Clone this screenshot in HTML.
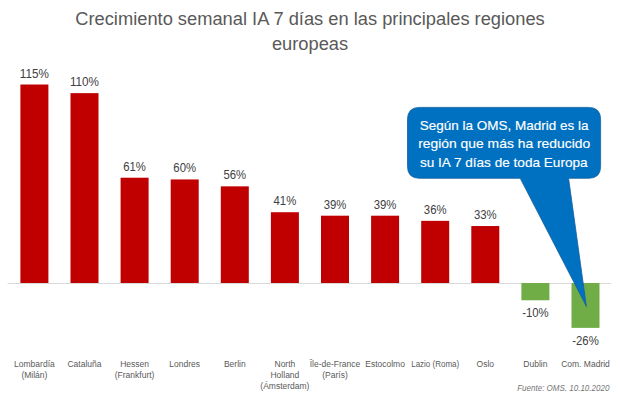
<!DOCTYPE html>
<html><head><meta charset="utf-8"><style>
html,body{margin:0;padding:0;background:#fff;}
body{width:620px;height:404px;overflow:hidden;}
svg{display:block;}
text{font-family:"Liberation Sans",sans-serif;}
.val{font-size:12.4px;fill:#404040;text-anchor:middle;}
.cat{font-size:8.5px;fill:#595959;text-anchor:middle;}
.co{font-size:12.8px;fill:#fff;stroke:#fff;stroke-width:0.15px;text-anchor:middle;}
.title{font-size:18.3px;fill:#595959;text-anchor:middle;}
.src{font-size:8.6px;fill:#767676;text-anchor:end;font-style:italic;}
</style></head><body>
<svg width="620" height="404" viewBox="0 0 620 404">
<rect width="620" height="404" fill="#fff"/>
<line x1="7.7" y1="283.5" x2="611" y2="283.5" stroke="#D9D9D9" stroke-width="1"/>
<rect x="20.40" y="84.51" width="28.0" height="198.49" fill="#C00000"/>
<text x="34.40" y="77.51" class="val" textLength="29.11" lengthAdjust="spacingAndGlyphs">115%</text>
<text x="34.40" y="366.80" class="cat">Lombardía</text>
<text x="34.40" y="377.85" class="cat">(Milán)</text>
<rect x="70.50" y="93.14" width="28.0" height="189.86" fill="#C00000"/>
<text x="84.50" y="86.14" class="val" textLength="29.11" lengthAdjust="spacingAndGlyphs">110%</text>
<text x="84.50" y="366.80" class="cat">Cataluña</text>
<rect x="120.60" y="177.71" width="28.0" height="105.29" fill="#C00000"/>
<text x="134.60" y="170.71" class="val" textLength="22.71" lengthAdjust="spacingAndGlyphs">61%</text>
<text x="134.60" y="366.80" class="cat">Hessen</text>
<text x="134.60" y="377.85" class="cat">(Frankfurt)</text>
<rect x="170.70" y="179.44" width="28.0" height="103.56" fill="#C00000"/>
<text x="184.70" y="172.44" class="val" textLength="22.71" lengthAdjust="spacingAndGlyphs">60%</text>
<text x="184.70" y="366.80" class="cat">Londres</text>
<rect x="220.80" y="186.34" width="28.0" height="96.66" fill="#C00000"/>
<text x="234.80" y="179.34" class="val" textLength="22.71" lengthAdjust="spacingAndGlyphs">56%</text>
<text x="234.80" y="366.80" class="cat">Berlin</text>
<rect x="270.90" y="212.23" width="28.0" height="70.77" fill="#C00000"/>
<text x="284.90" y="205.23" class="val" textLength="22.71" lengthAdjust="spacingAndGlyphs">41%</text>
<text x="284.90" y="366.80" class="cat">North</text>
<text x="284.90" y="377.85" class="cat">Holland</text>
<text x="284.90" y="388.90" class="cat">(Ámsterdam)</text>
<rect x="321.00" y="215.69" width="28.0" height="67.31" fill="#C00000"/>
<text x="335.00" y="208.69" class="val" textLength="22.71" lengthAdjust="spacingAndGlyphs">39%</text>
<text x="335.00" y="366.80" class="cat">Île-de-France</text>
<text x="335.00" y="377.85" class="cat">(París)</text>
<rect x="371.10" y="215.69" width="28.0" height="67.31" fill="#C00000"/>
<text x="385.10" y="208.69" class="val" textLength="22.71" lengthAdjust="spacingAndGlyphs">39%</text>
<text x="385.10" y="366.80" class="cat">Estocolmo</text>
<rect x="421.20" y="220.86" width="28.0" height="62.14" fill="#C00000"/>
<text x="435.20" y="213.86" class="val" textLength="22.71" lengthAdjust="spacingAndGlyphs">36%</text>
<text x="435.20" y="366.80" class="cat" textLength="48" lengthAdjust="spacingAndGlyphs">Lazio (Roma)</text>
<rect x="471.30" y="226.04" width="28.0" height="56.96" fill="#C00000"/>
<text x="485.30" y="219.04" class="val" textLength="22.71" lengthAdjust="spacingAndGlyphs">33%</text>
<text x="485.30" y="366.80" class="cat">Oslo</text>
<rect x="521.40" y="283.00" width="28.0" height="17.26" fill="#70AD47"/>
<text x="535.40" y="317.26" class="val" textLength="26.54" lengthAdjust="spacingAndGlyphs">-10%</text>
<text x="535.40" y="366.80" class="cat">Dublin</text>
<rect x="571.50" y="283.00" width="28.0" height="44.88" fill="#70AD47"/>
<text x="585.50" y="344.88" class="val" textLength="26.54" lengthAdjust="spacingAndGlyphs">-26%</text>
<text x="585.50" y="366.80" class="cat">Com. Madrid</text>
<path d="M419.5,107.4 H588.6 Q600.6,107.4 600.6,119.4 V166.3 Q600.6,178.3 588.6,178.3 H568.6 L586.4,306.4 L520.2,178.3 H419.5 Q407.5,178.3 407.5,166.3 V119.4 Q407.5,107.4 419.5,107.4 Z" fill="#0070C0" stroke="#16609F" stroke-width="0.8"/>
<text x="504.15" y="129.8" class="co" textLength="168.7" lengthAdjust="spacingAndGlyphs">Según la OMS, Madrid es la</text>
<text x="504.2" y="148.2" class="co" textLength="172" lengthAdjust="spacingAndGlyphs">región que más ha reducido</text>
<text x="503.75" y="166.9" class="co" textLength="167.7" lengthAdjust="spacingAndGlyphs">su IA 7 días de toda Europa</text>
<text x="310" y="25.2" class="title">Crecimiento semanal IA 7 días en las principales regiones</text>
<text x="310" y="50.1" class="title">europeas</text>
<text x="609.4" y="391" class="src" textLength="92.2" lengthAdjust="spacingAndGlyphs">Fuente: OMS. 10.10.2020</text>
</svg>
</body></html>
